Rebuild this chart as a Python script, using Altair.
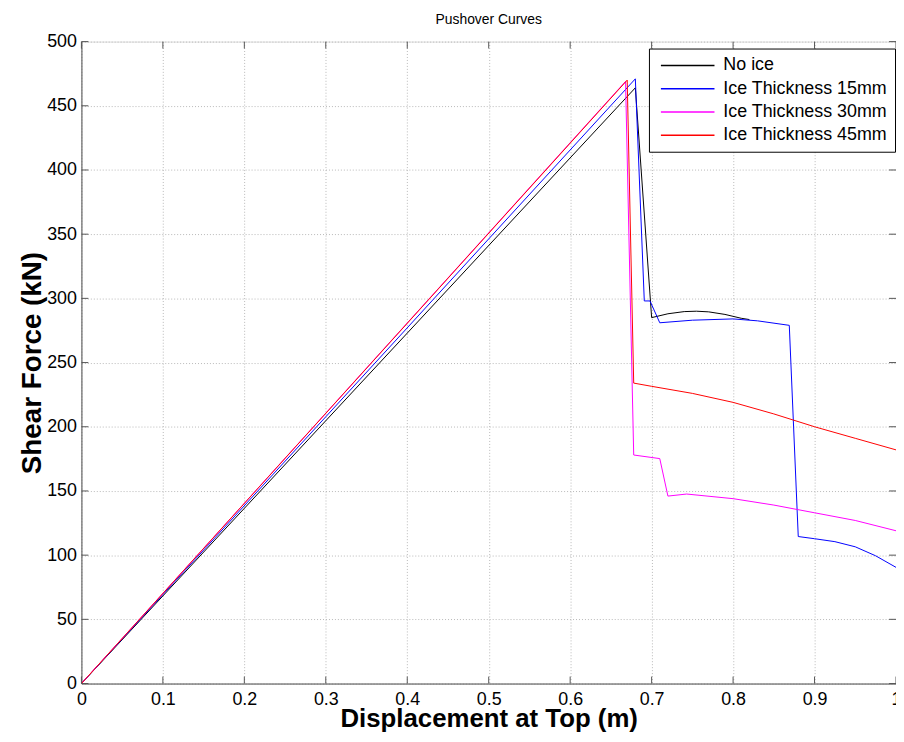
import altair as alt
import pandas as pd

series = ["No ice", "Ice Thickness 15mm", "Ice Thickness 30mm", "Ice Thickness 45mm"]
colors = ["#000000", "#0000ff", "#ff00ff", "#ff0000"]

noice_x = [0, 0.68, 0.70, 0.72, 0.74, 0.755, 0.77, 0.79, 0.81, 0.82]
noice_y = [0, 464, 285, 288, 289.7, 290, 289.5, 287.5, 284.5, 283.5]

ice15_x = [0, 0.68, 0.691, 0.698, 0.71, 0.75, 0.80, 0.83, 0.869, 0.88, 0.90, 0.925, 0.95, 0.975, 1.0]
ice15_y = [0, 471, 298, 298, 281, 283, 284, 282.5, 279, 114.5, 112.8, 110.5, 106.5, 99.5, 90.5]

ice30_x = [0, 0.668, 0.678, 0.71, 0.72, 0.743, 0.80, 0.85, 0.90, 0.95, 1.0]
ice30_y = [0, 469, 178, 175.2, 146, 147.6, 144, 139, 133, 127, 119]

ice45_x = [0, 0.67, 0.678, 0.70, 0.75, 0.80, 0.85, 0.90, 0.95, 1.0]
ice45_y = [0, 470, 234, 231.5, 226, 219, 210, 200, 191, 182]

x_ticks = [0, 0.1, 0.2, 0.3, 0.4, 0.5, 0.6, 0.7, 0.8, 0.9, 1.0]
y_ticks = [0, 50, 100, 150, 200, 250, 300, 350, 400, 450, 500]

rows = []
for name, xs, ys in zip(series, [noice_x, ice15_x, ice30_x, ice45_x],
                        [noice_y, ice15_y, ice30_y, ice45_y]):
    for i, (xv, yv) in enumerate(zip(xs, ys)):
        rows.append({"series": name, "d": xv, "f": yv, "i": i})
df = pd.DataFrame(rows)

W, H = 821, 647
FONT = "Liberation Sans"
xscale = alt.Scale(domain=[0, 1], nice=False, zero=False)
yscale = alt.Scale(domain=[0, 500], nice=False)

x_axis = alt.Axis(
    values=x_ticks, title="Displacement at Top (m)", labelExpr="format(datum.value, '~g')",
    grid=True, gridDash=[1, 2], gridColor="#b8b8b8", tickSize=0, labelFlush=False,
    labelFontSize=18, labelFont=FONT, labelColor="#000", labelPadding=7,
    titleFontSize=26, titleFont=FONT, titleFontWeight="bold", titleColor="#000", titlePadding=-3,
    domainColor="#555")
y_axis = alt.Axis(
    values=y_ticks, title="Shear Force (kN)",
    grid=True, gridDash=[1, 2], gridColor="#b8b8b8", tickSize=0, labelFlush=False,
    labelFontSize=18, labelFont=FONT, labelColor="#000", labelPadding=5,
    titleFontSize=28, titleFont=FONT, titleFontWeight="bold", titleColor="#000", titlePadding=0,
    domainColor="#555")

lines = alt.Chart(df).mark_line(strokeWidth=1, clip=True).encode(
    x=alt.X("d:Q", scale=xscale, axis=x_axis),
    y=alt.Y("f:Q", scale=yscale, axis=y_axis),
    color=alt.Color("series:N", scale=alt.Scale(domain=series, range=colors),
                    legend=alt.Legend(orient="none", legendX=572, legendY=7, title=None,
                                      symbolType="M-0.55,0H5.45", symbolSize=324,
                                      symbolStrokeWidth=1.5,
                                      labelFontSize=18, labelFont=FONT, labelColor="#000",
                                      labelLimit=0,
                                      strokeColor="#000", fillColor="#fff", padding=7,
                                      rowPadding=4.5, labelOffset=48, cornerRadius=0)),
    order="i:Q",
)

ytick_df = pd.DataFrame({"v": y_ticks})
xtick_df = pd.DataFrame({"v": x_ticks})
tick_color = "#555"
left_ticks = alt.Chart(ytick_df).mark_rule(color=tick_color, strokeWidth=1).encode(
    y=alt.Y("v:Q", scale=yscale, axis=y_axis), x=alt.value(0), x2=alt.value(7))
right_ticks = alt.Chart(ytick_df).mark_rule(color=tick_color, strokeWidth=1).encode(
    y=alt.Y("v:Q", scale=yscale, axis=y_axis), x=alt.value(W - 7), x2=alt.value(W))
bottom_ticks = alt.Chart(xtick_df).mark_rule(color=tick_color, strokeWidth=1).encode(
    x=alt.X("v:Q", scale=xscale, axis=x_axis), y=alt.value(H - 7), y2=alt.value(H))
top_ticks = alt.Chart(xtick_df).mark_rule(color=tick_color, strokeWidth=1).encode(
    x=alt.X("v:Q", scale=xscale, axis=x_axis), y=alt.value(0), y2=alt.value(7))

chart = alt.layer(lines, left_ticks, right_ticks, bottom_ticks, top_ticks).properties(
    width=W, height=H,
    title=alt.TitleParams("Pushover Curves", fontSize=14, fontWeight="normal", font=FONT,
                          color="#000", offset=6, anchor="middle"),
    autosize=alt.AutoSizeParams(type="none"),
    padding={"left": 74, "top": 31, "right": 0, "bottom": 48},
).configure_view(stroke="#555", strokeWidth=1).configure(background="#ffffff")

chart.save("out.html", embed_options={"renderer": "svg", "actions": False})
